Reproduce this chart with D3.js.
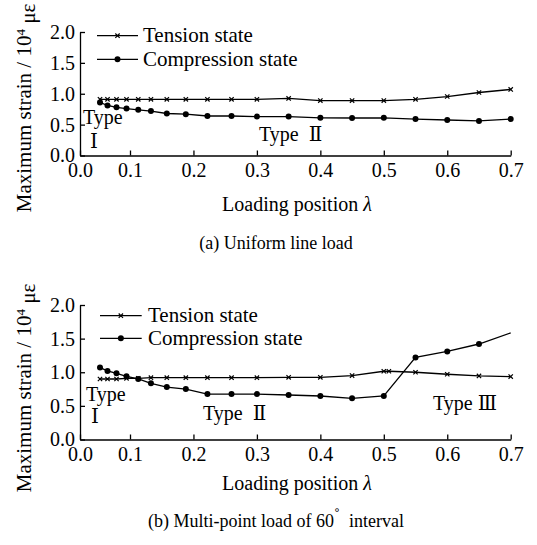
<!DOCTYPE html>
<html>
<head>
<meta charset="utf-8">
<script src="https://cdn.jsdelivr.net/npm/d3@7"></script>
<style>
  html, body { margin: 0; padding: 0; background: #fff; }
  svg { display: block; }
  text { font-family: "Liberation Serif", "Times New Roman", "DejaVu Serif", serif; fill: #000; }
</style>
</head>
<body>
<svg id="fig" width="537" height="545"></svg>
<script>
// Loading positions (λ) shared by the measured series
const lambda = [0.04, 0.055, 0.073, 0.093, 0.113, 0.133, 0.158, 0.188, 0.222, 0.26, 0.3,
                0.35, 0.4, 0.45, 0.5, 0.55, 0.6, 0.65, 0.7];
const lambdaTensionB = [0.04, 0.055, 0.073, 0.093, 0.113, 0.133, 0.158, 0.188, 0.222, 0.26, 0.3,
                        0.35, 0.4, 0.45, 0.5, 0.508, 0.55, 0.6, 0.65, 0.7];

// (a) Uniform line load — maximum strain, 10^4 με
const tensionA     = [0.91, 0.91, 0.91, 0.91, 0.91, 0.91, 0.91, 0.91, 0.91, 0.91, 0.91,
                      0.925, 0.89, 0.89, 0.89, 0.91, 0.955, 1.02, 1.07];
const compressionA = [0.86, 0.81, 0.78, 0.76, 0.74, 0.72, 0.68, 0.67, 0.64, 0.64, 0.63,
                      0.63, 0.61, 0.607, 0.61, 0.59, 0.575, 0.56, 0.59];

// (b) Multi-point load of 60° interval
const tensionB     = [0.90, 0.90, 0.90, 0.91, 0.91, 0.92, 0.92, 0.92, 0.92, 0.92, 0.92,
                      0.925, 0.925, 0.95, 1.015, 1.015, 1.0, 0.97, 0.945, 0.935];
const compressionB = [1.07, 1.02, 0.985, 0.94, 0.90, 0.835, 0.78, 0.75, 0.675, 0.675, 0.675,
                      0.662, 0.647, 0.613, 0.647, 1.22, 1.31, 1.42, 1.585];

const xTicks = [0, 0.1, 0.2, 0.3, 0.4, 0.5, 0.6, 0.7];
const yTicks = [0, 0.5, 1.0, 1.5, 2.0];
const seriesNames = ["Tension state", "Compression state"];

const svg = d3.select("#fig");

// the first interval of the λ axis is drawn narrower than the rest
const x = d3.scaleLinear().domain([0, 0.1, 0.7]).range([80, 130, 510.7]);

const panels = [
  {
    yRange: [155.5, 32],
    tension: { xs: lambda, ys: tensionA },
    compression: { xs: lambda, ys: compressionA, markLast: true },
    legend: { x0: 97, x1: 138, textX: 143, rows: [35.7, 59.3], dy: 6.5 },
    types: [
      { label: "Type", x: 83, y: 124 },
      { label: "\u2160", x: 90, y: 148 },
      { label: "Type  \u2161", x: 259, y: 141 }
    ],
    titleY: 108, xTitleY: 211, captionY: 249,
    caption: [{ t: "(a) Uniform line load" }]
  },
  {
    yRange: [439.5, 305],
    tension: { xs: lambdaTensionB, ys: tensionB },
    compression: { xs: lambda, ys: compressionB, markLast: false },
    legend: { x0: 100, x1: 141.7, textX: 148, rows: [315.7, 338.3], dy: 6.5 },
    types: [
      { label: "Type", x: 86, y: 401 },
      { label: "\u2160", x: 91, y: 423 },
      { label: "Type  \u2161", x: 203, y: 420 },
      { label: "Type \u2162", x: 433, y: 410 }
    ],
    titleY: 388, xTitleY: 490, captionY: 527,
    caption: [{ t: "(b) Multi-point load of 60" }, { t: "\u02DA", sup: true }, { t: "  interval" }]
  }
];

const tensionSymbol = d3.symbol().type(d3.symbolTimes).size(14);

panels.forEach(p => {
  const y = d3.scaleLinear().domain([0, 2]).range(p.yRange);
  const g = svg.append("g");

  // axes with inward ticks
  const xAxis = g.append("g")
    .attr("transform", `translate(0,${p.yRange[0]})`)
    .call(d3.axisBottom(x).tickValues(xTicks).tickFormat(d3.format(".1f"))
      .tickSizeInner(-5).tickSizeOuter(0).tickPadding(7));
  const yAxis = g.append("g")
    .attr("transform", "translate(80,0)")
    .call(d3.axisLeft(y).tickValues(yTicks).tickFormat(d3.format(".1f"))
      .tickSizeInner(-5).tickSizeOuter(0).tickPadding(5));
  [xAxis, yAxis].forEach(a => {
    a.attr("font-family", null);
    a.selectAll("path, line").attr("stroke", "#000").attr("stroke-width", 1.3);
    a.selectAll("text").style("font-size", "20px")
      .style("font-family", "'Liberation Serif', 'Times New Roman', serif");
  });

  const line = d3.line().x(d => x(d[0])).y(d => y(d[1]));

  // tension state
  const tPts = p.tension.xs.map((v, i) => [v, p.tension.ys[i]]);
  g.append("path").datum(tPts).attr("d", line)
    .attr("fill", "none").attr("stroke", "#000").attr("stroke-width", 1.3);
  g.selectAll(".tm").data(tPts).join("path")
    .attr("transform", d => `translate(${x(d[0])},${y(d[1])})`)
    .attr("d", tensionSymbol).attr("fill", "none").attr("stroke", "#000").attr("stroke-width", 1.2);

  // compression state
  const cPts = p.compression.xs.map((v, i) => [v, p.compression.ys[i]]);
  g.append("path").datum(cPts).attr("d", line)
    .attr("fill", "none").attr("stroke", "#000").attr("stroke-width", 1.3);
  const marked = p.compression.markLast ? cPts : cPts.slice(0, -1);
  g.selectAll(".cm").data(marked).join("circle")
    .attr("cx", d => x(d[0])).attr("cy", d => y(d[1])).attr("r", 3).attr("fill", "#000");

  // legend
  const L = p.legend;
  seriesNames.forEach((name, i) => {
    const ry = L.rows[i];
    g.append("line").attr("x1", L.x0).attr("x2", L.x1).attr("y1", ry).attr("y2", ry)
      .attr("stroke", "#000").attr("stroke-width", 1.3);
    const mx = (L.x0 + L.x1) / 2;
    if (i === 0) {
      g.append("path").attr("transform", `translate(${mx},${ry})`).attr("d", tensionSymbol)
        .attr("fill", "none").attr("stroke", "#000").attr("stroke-width", 1.2);
    } else {
      g.append("circle").attr("cx", mx).attr("cy", ry).attr("r", 3).attr("fill", "#000");
    }
    g.append("text").attr("x", L.textX).attr("y", ry + L.dy).style("font-size", "21px").text(name);
  });

  // region labels
  p.types.forEach(t => {
    g.append("text").attr("x", t.x).attr("y", t.y).style("font-size", "20px")
      .attr("xml:space", "preserve").text(t.label);
  });

  // y-axis title
  const yt = g.append("text")
    .attr("transform", `translate(31,${p.titleY}) rotate(-90)`)
    .attr("text-anchor", "middle").style("font-size", "21px").attr("xml:space", "preserve");
  yt.append("tspan").text("Maximum strain / 10");
  yt.append("tspan").attr("dy", "-0.45em").style("font-size", "13px").text("4");
  yt.append("tspan").attr("dy", "0.45em").text(" \u03BC\u03B5");

  // x-axis title
  const xt = g.append("text").attr("x", 297).attr("y", p.xTitleY)
    .attr("text-anchor", "middle").style("font-size", "20px");
  xt.append("tspan").text("Loading position ");
  xt.append("tspan").style("font-style", "italic").text("\u03BB");

  // caption
  const cap = g.append("text").attr("x", 276).attr("y", p.captionY)
    .attr("text-anchor", "middle").style("font-size", "18px").attr("xml:space", "preserve");
  p.caption.forEach((c, i) => {
    const s = cap.append("tspan").text(c.t);
    if (c.sup) s.attr("dy", "-0.3em");
    else if (i > 0) s.attr("dy", "0.3em");
  });
});
</script>
</body>
</html>
